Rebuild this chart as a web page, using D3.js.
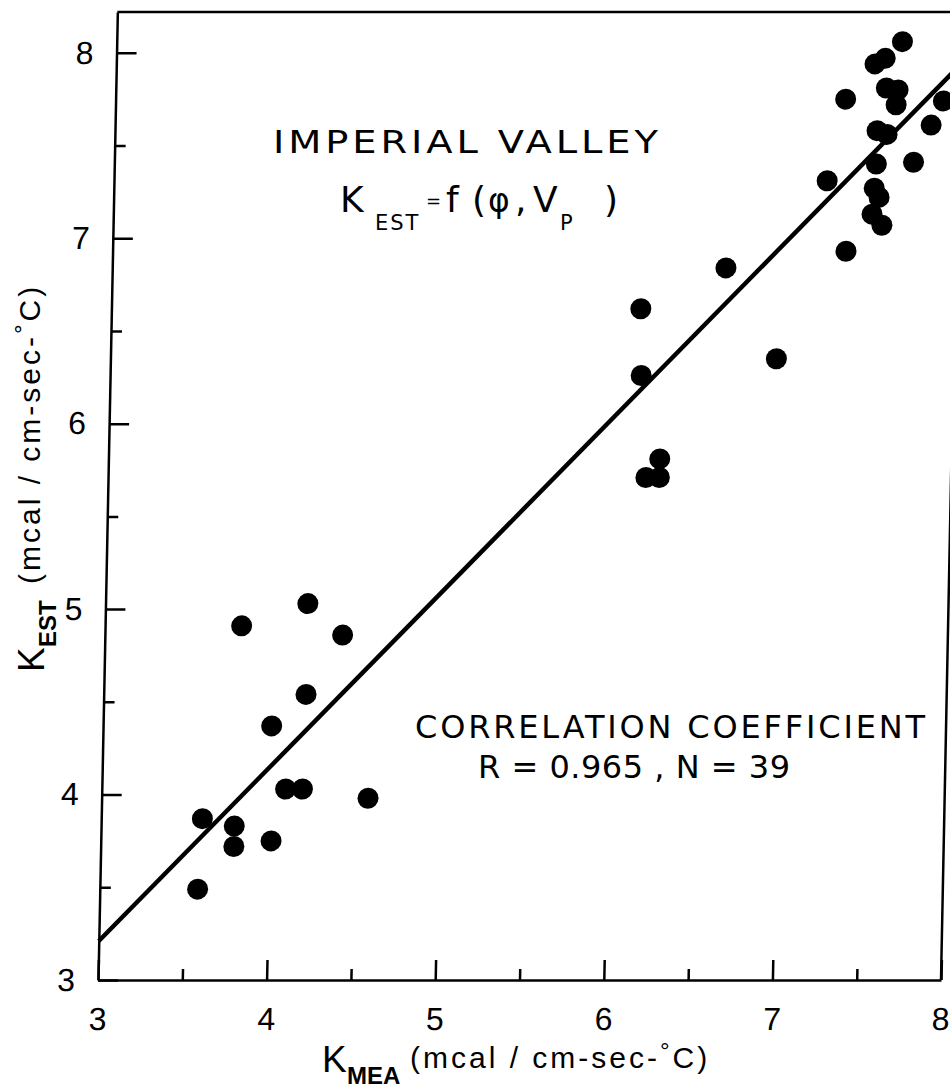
<!DOCTYPE html>
<html>
<head>
<meta charset="utf-8">
<script src="https://cdn.jsdelivr.net/npm/d3@7"></script>
<style>
  body { margin: 0; background: #fff; }
  svg { display: block; background: #fff; }
  .lbl { font-family: "Liberation Sans", Arial, sans-serif; fill: #000; }
  .note { font-family: "DejaVu Sans", sans-serif; fill: #000; }
</style>
</head>
<body>
<svg width="950" height="1090"></svg>
<script>
var kMea = [3.81, 4.20, 4.41, 4.20, 4.00, 4.09, 4.19, 4.58, 3.60, 3.79, 3.79, 4.01, 3.58,
            6.14, 6.15, 6.64, 6.95, 6.19, 6.27, 6.27,
            7.66, 7.56, 7.50, 7.33, 7.57, 7.64, 7.63, 7.91, 7.84, 7.52, 7.58, 7.52, 7.74,
            7.23, 7.51, 7.54, 7.50, 7.56, 7.35];
var kEst = [4.91, 5.03, 4.86, 4.54, 4.37, 4.03, 4.03, 3.98, 3.87, 3.83, 3.72, 3.75, 3.49,
            6.62, 6.26, 6.84, 6.35, 5.71, 5.71, 5.81,
            8.06, 7.97, 7.94, 7.75, 7.81, 7.80, 7.72, 7.74, 7.61, 7.58, 7.56, 7.40, 7.41,
            7.31, 7.27, 7.22, 7.13, 7.07, 6.93];

// regression line end points
var fitX = [3, 8];
var fitY = [3.21, 7.93];

var majorTicks = [3, 4, 5, 6, 7, 8];
var minorTicks = [3.5, 4.5, 5.5, 6.5, 7.5];

var svg = d3.select("svg");
var fnt = '"Liberation Sans", Arial, sans-serif';

var x = d3.scaleLinear().domain([3, 8]).range([98, 941]);
var y = d3.scaleLinear().domain([3, 8.22]).range([980, 12]);

// the scanned frame leans to the right going up
var shear = 0.02;
var skew = Math.atan(-shear) * 180 / Math.PI;

var plot = svg.append("g")
  .attr("transform", "translate(0," + y(3) + ") skewX(" + skew + ") translate(0," + (-y(3)) + ")");

function styleAxis(g) {
  g.attr("font-size", 32).attr("font-family", fnt);
  g.selectAll("path, line").attr("stroke", "#000").attr("stroke-width", 2.5);
  g.selectAll("text").attr("fill", "#000");
}

// x axis, ticks point inward
plot.append("g")
  .attr("transform", "translate(0," + y(3) + ")")
  .call(d3.axisBottom(x).tickValues(majorTicks).tickSize(-20).tickSizeOuter(0)
    .tickPadding(27).tickFormat(d3.format("d")))
  .call(styleAxis);
plot.append("g")
  .attr("transform", "translate(0," + y(3) + ")")
  .call(d3.axisBottom(x).tickValues(minorTicks).tickSize(-11).tickSizeOuter(0).tickFormat(""))
  .call(styleAxis)
  .call(function (g) { g.select(".domain").remove(); });

// y axis
plot.append("g")
  .attr("transform", "translate(" + x(3) + ",0)")
  .call(d3.axisLeft(y).tickValues(majorTicks).tickSize(-20).tickSizeOuter(0)
    .tickPadding(23).tickFormat(d3.format("d")))
  .call(styleAxis);
plot.append("g")
  .attr("transform", "translate(" + x(3) + ",0)")
  .call(d3.axisLeft(y).tickValues(minorTicks).tickSize(-11).tickSizeOuter(0).tickFormat(""))
  .call(styleAxis)
  .call(function (g) { g.select(".domain").remove(); });

// top and right border of the frame
plot.append("path")
  .attr("d", "M" + x(3) + "," + y(8.22) + "H" + x(8) + "V" + y(3))
  .attr("fill", "none")
  .attr("stroke", "#000")
  .attr("stroke-width", 2.5);

// fitted line
plot.append("line")
  .attr("x1", x(fitX[0])).attr("y1", y(fitY[0]))
  .attr("x2", x(fitX[1])).attr("y2", y(fitY[1]))
  .attr("stroke", "#000")
  .attr("stroke-width", 4.5);

plot.selectAll("circle")
  .data(d3.range(kMea.length))
  .join("circle")
  .attr("cx", function (i) { return x(kMea[i]); })
  .attr("cy", function (i) { return y(kEst[i]); })
  .attr("r", 10.5)
  .attr("fill", "#000");

// axis titles: K with subscript, then the units
function axisTitle(g, sub) {
  var t = g.append("text").attr("class", "lbl");
  t.append("tspan").attr("x", 0).attr("y", 0).attr("font-size", 37).text("K");
  t.append("tspan").attr("x", 25).attr("y", 12).attr("font-size", 24)
    .attr("font-weight", "bold").text(sub);
  var u = g.append("text").attr("class", "lbl")
    .attr("x", 88).attr("y", -4)
    .attr("font-size", 30).attr("letter-spacing", 3);
  u.append("tspan").text("(mcal / cm-sec-");
  u.append("tspan").attr("dy", -9).attr("font-size", 24).text("°");
  u.append("tspan").attr("dy", 9).text("C)");
}

axisTitle(svg.append("g").attr("transform", "translate(322,1072)"), "MEA");
axisTitle(svg.append("g").attr("transform", "translate(44,672) rotate(-90)"), "EST");

// annotations
svg.append("text").attr("class", "note")
  .attr("transform", "translate(273,153) scale(1.2,1)")
  .attr("font-size", 32)
  .attr("textLength", 385 / 1.2).attr("lengthAdjust", "spacing")
  .text("IMPERIAL VALLEY");

var f = svg.append("text").attr("class", "note").attr("y", 212).attr("font-size", 36);
f.append("tspan").attr("x", 340).text("K");
f.append("tspan").attr("x", 375).attr("y", 230).attr("font-size", 21).attr("letter-spacing", 2).text("EST");
f.append("tspan").attr("x", 426).attr("y", 207).attr("font-size", 18).text("=");
f.append("tspan").attr("x", 446).attr("y", 212).text("f");
f.append("tspan").attr("x", 472).text("(");
f.append("tspan").attr("x", 488).attr("font-size", 33).text("φ");
f.append("tspan").attr("x", 515).text(",");
f.append("tspan").attr("x", 533).text("V");
f.append("tspan").attr("x", 560).attr("y", 230).attr("font-size", 21).text("P");
f.append("tspan").attr("x", 604).attr("y", 212).text(")");

svg.append("text").attr("class", "note")
  .attr("x", 415).attr("y", 738)
  .attr("font-size", 32)
  .attr("textLength", 510).attr("lengthAdjust", "spacing")
  .text("CORRELATION COEFFICIENT");

svg.append("text").attr("class", "note")
  .attr("x", 478).attr("y", 778)
  .attr("font-size", 32)
  .attr("textLength", 312).attr("lengthAdjust", "spacing")
  .text("R = 0.965 , N = 39");
</script>
</body>
</html>
